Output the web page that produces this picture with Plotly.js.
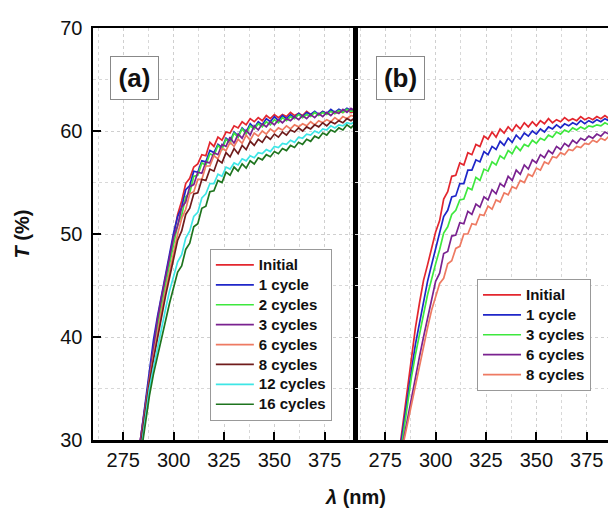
<!DOCTYPE html>
<html>
<head>
<meta charset="utf-8">
<script src="https://cdn.plot.ly/plotly-3.0.1.min.js"></script>
<style>
html,body{margin:0;padding:0;overflow:hidden;background:#fff;}
#chart{width:626px;height:510px;}
</style>
</head>
<body>
<div id="chart"></div>
<script>
// Wavelength grid (nm), shared by all spectra
const wavelength = [282,284,286,288,290,292,294,296,298,300,302,304,306,308,310,312,314,316,318,320,322,324,326,328,330,332,334,336,338,340,342,344,346,348,350,352,354,356,358,360,362,364,366,368,370,372,374,376,378,380,382,384,386,388,390];

// Panel (a) transmittance (%)
const a_initial = [27.9,30.7,33.6,36.4,39.3,41.6,43.6,45.7,47.8,49.8,51.9,53.2,54.9,55.4,56.5,56.8,57.7,57.6,58.9,58.5,59.4,59.1,59.9,59.8,60.5,60.3,60.9,60.6,61.2,60.9,61.3,61.0,61.5,61.2,61.6,61.3,61.6,61.4,61.8,61.5,61.7,61.5,61.9,61.6,61.8,61.6,61.9,61.7,62.0,61.7,61.9,61.8,62.1,61.8,61.9];
const a_1cycle = [27.7,30.8,33.8,36.8,39.7,42.0,44.1,46.2,48.2,50.1,51.7,52.6,54.3,54.7,56.1,56.0,57.1,57.0,58.1,57.9,58.7,58.4,59.3,59.0,59.9,59.5,60.3,59.9,60.7,60.3,60.9,60.6,61.2,60.9,61.4,61.0,61.5,61.2,61.6,61.3,61.7,61.4,61.8,61.6,61.9,61.6,61.9,61.7,62.1,61.8,62.1,61.9,62.2,62.0,62.2];
const a_2cycles = [27.6,30.4,33.3,36.1,38.7,41.0,43.1,45.2,47.1,49.0,50.9,51.8,53.6,54.0,55.6,55.7,56.9,56.7,57.8,57.6,58.6,58.2,59.2,58.8,59.8,59.4,60.2,59.7,60.5,60.2,60.7,60.4,60.9,60.6,61.1,60.8,61.3,61.0,61.4,61.2,61.6,61.3,61.6,61.4,61.8,61.5,61.8,61.6,61.9,61.7,62.0,61.8,62.1,61.9,62.0];
const a_3cycles = [27.9,30.7,33.6,36.4,39.3,41.7,43.9,45.9,47.7,49.7,50.8,52.6,53.1,54.6,54.8,56.0,55.9,57.0,56.9,57.9,57.7,58.7,58.5,59.4,58.8,59.7,59.3,60.1,59.6,60.5,60.1,60.7,60.4,60.9,60.6,61.1,60.8,61.2,61.0,61.4,61.1,61.5,61.2,61.6,61.3,61.7,61.4,61.8,61.5,61.9,61.7,62.1,61.8,62.2,61.9];
const a_6cycles = [27.0,30.0,33.0,35.8,38.2,40.5,42.5,44.5,46.4,48.2,50.0,51.5,52.4,53.9,54.1,55.3,55.3,56.6,56.6,57.6,57.3,58.3,58.1,58.9,58.5,59.2,58.8,59.6,59.1,59.8,59.5,60.0,59.7,60.2,59.9,60.3,60.1,60.5,60.2,60.6,60.4,60.7,60.5,60.9,60.6,61.0,60.8,61.1,60.9,61.3,61.0,61.4,61.2,61.5,61.4];
const a_8cycles = [27.1,30.0,32.9,35.6,37.8,40.0,42.0,44.0,45.8,47.5,49.4,50.3,51.9,52.5,53.9,54.0,55.3,55.2,56.3,56.1,57.2,56.9,57.9,57.5,58.3,57.8,58.6,58.2,59.0,58.6,59.2,58.9,59.5,59.2,59.7,59.4,59.9,59.6,60.1,59.9,60.3,60.0,60.4,60.2,60.6,60.4,60.8,60.5,60.9,60.7,61.0,60.8,61.2,61.0,61.3];
const a_12cycles = [26.4,29.3,32.1,35.0,37.0,39.0,40.9,42.7,44.5,46.0,47.3,48.0,49.6,50.3,51.7,52.1,53.5,53.9,54.9,54.9,55.8,55.6,56.5,56.3,56.9,56.7,57.3,57.1,57.6,57.4,57.9,57.8,58.2,58.0,58.5,58.4,58.8,58.7,59.1,58.9,59.4,59.3,59.7,59.6,60.0,59.8,60.2,60.1,60.5,60.3,60.6,60.5,60.8,60.7,60.9];
const a_16cycles = [26.2,28.9,31.6,34.3,36.4,38.2,40.0,41.7,43.3,44.8,46.3,46.9,48.5,49.1,50.7,51.0,52.5,52.7,54.1,54.2,55.2,55.0,56.0,55.7,56.5,56.1,56.8,56.4,57.1,56.8,57.4,57.2,57.7,57.5,58.0,57.8,58.3,58.1,58.6,58.4,58.9,58.7,59.2,59.0,59.5,59.3,59.8,59.6,60.1,59.9,60.3,60.1,60.6,60.3,60.7];

// Panel (b) transmittance (%)
const b_initial = [28.9,32.0,35.0,38.0,40.9,43.3,45.5,47.0,48.5,50.2,51.3,53.4,54.1,55.6,55.7,56.9,56.7,57.9,57.7,58.7,58.5,59.5,59.2,59.9,59.4,60.2,59.8,60.4,60.0,60.6,60.2,60.8,60.4,60.9,60.5,61.0,60.7,61.2,60.8,61.1,60.9,61.3,61.0,61.2,61.0,61.4,61.1,61.3,61.1,61.4,61.2,61.5,61.2,61.5,61.3];
const b_1cycle = [28.6,31.4,34.3,36.7,39.3,41.4,43.5,45.4,47.0,48.6,50.0,51.7,52.3,53.6,53.7,54.9,54.9,56.2,56.2,57.2,57.0,58.0,57.7,58.5,58.2,59.0,58.6,59.3,58.9,59.6,59.2,59.8,59.5,60.0,59.7,60.2,59.9,60.4,60.2,60.6,60.3,60.7,60.5,60.8,60.6,61.0,60.7,61.0,60.8,61.1,60.9,61.2,61.0,61.2,61.1];
const b_3cycles = [27.9,30.7,33.6,36.1,38.3,40.4,42.2,44.1,45.7,47.1,48.5,50.1,50.7,51.9,52.3,53.3,53.4,54.5,54.3,55.5,55.2,56.3,56.1,57.0,56.7,57.6,57.3,58.1,57.8,58.5,58.1,58.7,58.5,59.1,58.8,59.3,59.1,59.6,59.4,59.9,59.7,60.1,59.9,60.3,60.1,60.4,60.2,60.5,60.4,60.6,60.5,60.8,60.6,60.8,60.7];
const b_6cycles = [27.9,30.0,32.1,34.2,36.2,38.1,40.0,41.8,43.7,45.4,46.2,48.1,48.3,49.8,49.9,51.1,51.0,52.2,51.9,52.9,52.6,53.6,53.3,54.3,53.9,54.9,54.6,55.6,55.2,56.2,55.8,56.7,56.3,57.2,56.9,57.7,57.4,58.1,57.8,58.5,58.2,58.8,58.5,59.1,58.8,59.3,59.1,59.5,59.3,59.7,59.5,59.9,59.7,60.0,59.9];
const b_8cycles = [27.8,29.7,31.6,33.6,35.5,37.3,39.1,40.9,42.6,44.0,45.2,45.7,47.1,47.4,48.6,48.8,50.0,50.0,51.0,50.9,51.9,51.8,52.7,52.4,53.3,53.1,54.0,53.8,54.6,54.4,55.2,55.0,55.8,55.6,56.4,56.2,57.0,56.8,57.5,57.4,57.9,57.7,58.2,58.1,58.5,58.4,58.8,58.7,59.1,58.9,59.3,59.1,59.5,59.3,59.6];

const namesA = ['Initial','1 cycle','2 cycles','3 cycles','6 cycles','8 cycles','12 cycles','16 cycles'];
const seriesA = [a_initial,a_1cycle,a_2cycles,a_3cycles,a_6cycles,a_8cycles,a_12cycles,a_16cycles];
const colorsA = ['#e3262e','#1f26c8','#3ee83e','#7a2290','#ee7a62','#701c1c','#3ee6e6','#1e741e'];

const namesB = ['Initial','1 cycle','3 cycles','6 cycles','8 cycles'];
const seriesB = [b_initial,b_1cycle,b_3cycles,b_6cycles,b_8cycles];
const colorsB = ['#e3262e','#1f26c8','#3ee83e','#7a2290','#ee7a62'];

const panelLabels = ['(a)','(b)'];
const xTitle = '<i>λ</i> (nm)';
const yTitle = '<i>T</i> (%)';

const FONT = 'Liberation Sans, Arial, sans-serif';
const legName = n => '<span style="font-size:15px">'+n+'</span>';
const traces = [];
seriesA.forEach((s,i)=>traces.push({x:wavelength,y:s,name:legName(namesA[i]),type:'scatter',mode:'lines',
  xaxis:'x',yaxis:'y',legend:'legend',line:{color:colorsA[i],width:1.7}}));
seriesB.forEach((s,i)=>traces.push({x:wavelength,y:s,name:legName(namesB[i]),type:'scatter',mode:'lines',
  xaxis:'x2',yaxis:'y2',legend:'legend2',line:{color:colorsB[i],width:1.7}}));

const gridStyle = {showgrid:true,gridcolor:'#cfcfcf',griddash:'dot',gridwidth:1};
function xax(dom, anchor){
  return Object.assign({domain:dom,anchor:anchor,range:[260,390],tick0:275,dtick:25,
    ticks:'inside',ticklen:8,tickwidth:2,tickcolor:'#000',showline:true,linewidth:2.5,linecolor:'#000',mirror:true,
    zeroline:false,tickfont:{family:FONT,size:20,color:'#111'},
    minor:{dtick:12.5,tick0:275,showgrid:true,gridcolor:'#d8d8d8',griddash:'dot',ticks:''}},gridStyle);
}
function yax(anchor, labels){
  return Object.assign({anchor:anchor,domain:[0,1],range:[30,70],dtick:10,
    ticks:labels?'inside':'',ticklen:8,tickwidth:2,tickcolor:'#000',showline:true,linewidth:labels?2.5:2,linecolor:'#000',mirror:labels,
    zeroline:false,showticklabels:labels,tickfont:{family:FONT,size:20,color:'#111'},ticklabelstandoff:4,
    minor:{dtick:5,showgrid:true,gridcolor:'#d8d8d8',griddash:'dot',ticks:''}},gridStyle);
}

const legendCommon = {xanchor:'left',yanchor:'top',bgcolor:'#fff',bordercolor:'#999',borderwidth:1,
  font:{family:FONT,size:13,color:'#111',weight:'bold'},tracegroupgap:0,itemwidth:38};

const layout = {
  width:626,height:510,
  margin:{l:93,r:9,t:28,b:70},
  paper_bgcolor:'#fff',plot_bgcolor:'#fff',
  showlegend:true,
  xaxis:xax([0,0.5],'y'),
  xaxis2:xax([0.5,1],'y2'),
  yaxis:Object.assign(yax('x',true),{title:{text:'<b>'+yTitle+'</b>',font:{family:FONT,size:20,color:'#111'},standoff:26}}),
  yaxis2:yax('x2',false),
  legend:Object.assign({x:0.223,y:0.4636},legendCommon),
  legend2:Object.assign({x:0.7328,y:0.3908},legendCommon),
  annotations:[
    {text:'<b>'+panelLabels[0]+'</b>',xref:'paper',yref:'paper',x:0.0792,y:0.8786,xanchor:'center',yanchor:'middle',
     showarrow:false,font:{family:FONT,size:26,color:'#111'},bordercolor:'#888',borderwidth:1,width:45,height:40,bgcolor:'#fff'},
    {text:'<b>'+panelLabels[1]+'</b>',xref:'paper',yref:'paper',x:0.5859,y:0.8786,xanchor:'center',yanchor:'middle',
     showarrow:false,font:{family:FONT,size:26,color:'#111'},bordercolor:'#888',borderwidth:1,width:45,height:40,bgcolor:'#fff'},
    {text:'<b>'+xTitle+'</b>',xref:'paper',yref:'paper',x:0.5,y:-0.138,xanchor:'center',yanchor:'middle',
     showarrow:false,font:{family:FONT,size:20,color:'#111'}}
  ]
};

Plotly.newPlot('chart',traces,layout,{displayModeBar:false,staticPlot:true});
</script>
</body>
</html>
